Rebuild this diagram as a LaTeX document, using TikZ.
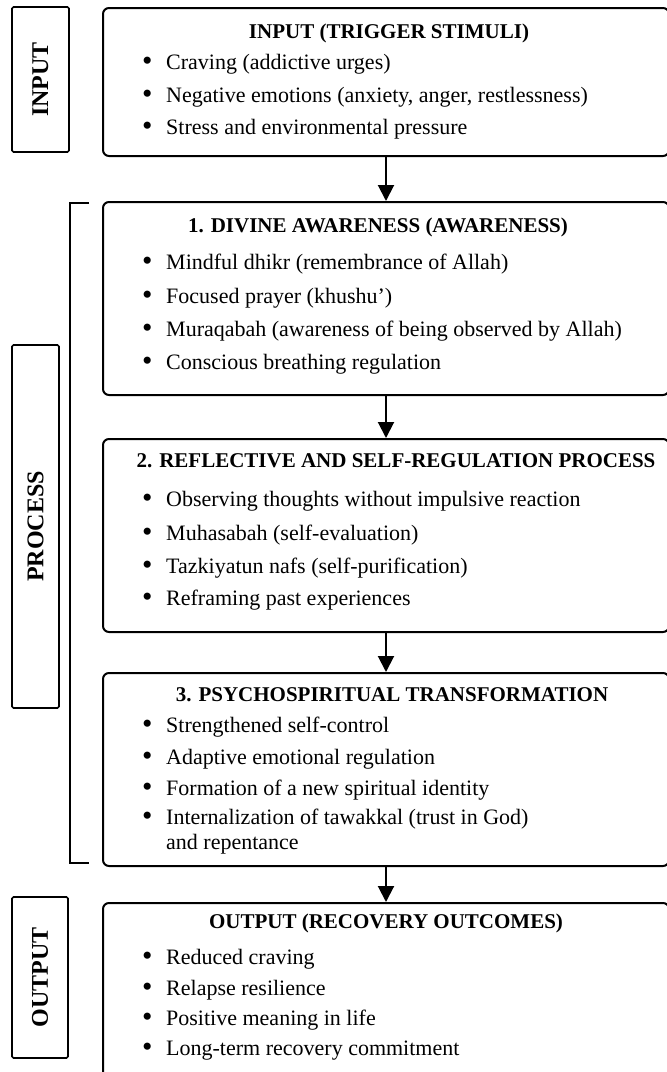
\documentclass[tikz,border=0pt]{standalone}
\usepackage{fontspec}
\setmainfont{Liberation Serif}
\usetikzlibrary{arrows.meta}
\tikzset{
  mainbox/.style={draw=black, line width=2pt, rounded corners=6pt, inner sep=0pt, fill=white},
  sidebox/.style={draw=black, line width=1.6pt, rounded corners=1.5pt, inner sep=0pt},
  sidelabel/.style={rotate=90, font=\fontsize{24}{27}\selectfont\bfseries, inner sep=0pt},
  ttl/.style={anchor=mid, inner sep=0pt, font=\fontsize{21}{24}\selectfont\bfseries},
  itm/.style={anchor=mid west, inner sep=0pt, font=\fontsize{22}{25}\selectfont},
  arr/.style={line width=2pt, -{Triangle[width=16pt,length=16pt]}},
  brk/.style={line width=1.6pt}
}
\newcommand\bl{\makebox[24pt][l]{\raisebox{-0.08ex}{\scalebox{1.35}{\textbullet}}}}
\begin{document}
\begin{tikzpicture}[x=1pt,y=-1pt]
\useasboundingbox (0,0) rectangle (667,1072);
\clip (0,0) rectangle (667,1072);
\fill[white] (0,0) rectangle (667,1072);

% side labels
\node[sidebox, minimum width=57pt, minimum height=145pt] (sin) at (40.5,79.5) {};
\node[sidelabel] (lin) at (sin.center) {INPUT};
\node[sidebox, minimum width=47pt, minimum height=363pt] (spr) at (35.5,526.5) {};
\node[sidelabel] (lpr) at (spr.center) {PROCESS};
\node[sidebox, minimum width=56pt, minimum height=161pt] (sout) at (40,977.5) {};
\node[sidelabel] (lout) at (sout.center) {OUTPUT};

% bracket
\coordinate (bt) at (89,203);
\coordinate (bb) at (89,863);
\draw[brk] (bt) -- (70,203) -- (70,863) -- (bb);

% main boxes
\node[mainbox, minimum width=566pt, minimum height=148pt] (b1) at (386,82) {};
\node[mainbox, minimum width=566pt, minimum height=193pt] (b2) at (386,298.5) {};
\node[mainbox, minimum width=566pt, minimum height=193pt] (b3) at (386,535.5) {};
\node[mainbox, minimum width=566pt, minimum height=193pt] (b4) at (386,769.5) {};
\node[mainbox, minimum width=566pt, minimum height=180pt] (b5) at (386,993) {};

% arrows
\draw[arr] (b1.south) -- (b2.north);
\draw[arr] (b2.south) -- (b3.north);
\draw[arr] (b3.south) -- (b4.north);
\draw[arr] (b4.south) -- (b5.north);

% box 1
\node[ttl] (t1) at (389,36) {INPUT (TRIGGER STIMULI)};
\node[itm] (i11) at (142,67) {\bl Craving (addictive urges)};
\node[itm] (i12) at (142,100) {\bl Negative emotions (anxiety, anger, restlessness)};
\node[itm] (i13) at (142,132) {\bl Stress and environmental pressure};

% box 2
\node[ttl] (t2) at (378,230) {1. DIVINE AWARENESS (AWARENESS)};
\node[itm] (i21) at (142,267) {\bl Mindful dhikr (remembrance of Allah)};
\node[itm] (i22) at (142,301) {\bl Focused prayer (khushu')};
\node[itm] (i23) at (142,334) {\bl Muraqabah (awareness of being observed by Allah)};
\node[itm] (i24) at (142,367) {\bl Conscious breathing regulation};

% box 3
\node[ttl] (t3) at (396,465) {2. REFLECTIVE AND SELF-REGULATION PROCESS};
\node[itm] (i31) at (142,504) {\bl Observing thoughts without impulsive reaction};
\node[itm] (i32) at (142,538) {\bl Muhasabah (self-evaluation)};
\node[itm] (i33) at (142,571) {\bl Tazkiyatun nafs (self-purification)};
\node[itm] (i34) at (142,603) {\bl Reframing past experiences};

% box 4
\node[ttl] (t4) at (392,699) {3. PSYCHOSPIRITUAL TRANSFORMATION};
\node[itm] (i41) at (142,730) {\bl Strengthened self-control};
\node[itm] (i42) at (142,762) {\bl Adaptive emotional regulation};
\node[itm] (i43) at (142,793) {\bl Formation of a new spiritual identity};
\node[itm] (i44) at (142,822) {\bl Internalization of tawakkal (trust in God)};
\node[itm] (i45) at (166,847) {and repentance};

% box 5
\node[ttl] (t5) at (386,926) {OUTPUT (RECOVERY OUTCOMES)};
\node[itm] (i51) at (142,962) {\bl Reduced craving};
\node[itm] (i52) at (142,993) {\bl Relapse resilience};
\node[itm] (i53) at (142,1023) {\bl Positive meaning in life};
\node[itm] (i54) at (142,1053) {\bl Long-term recovery commitment};
\end{tikzpicture}
\end{document}
